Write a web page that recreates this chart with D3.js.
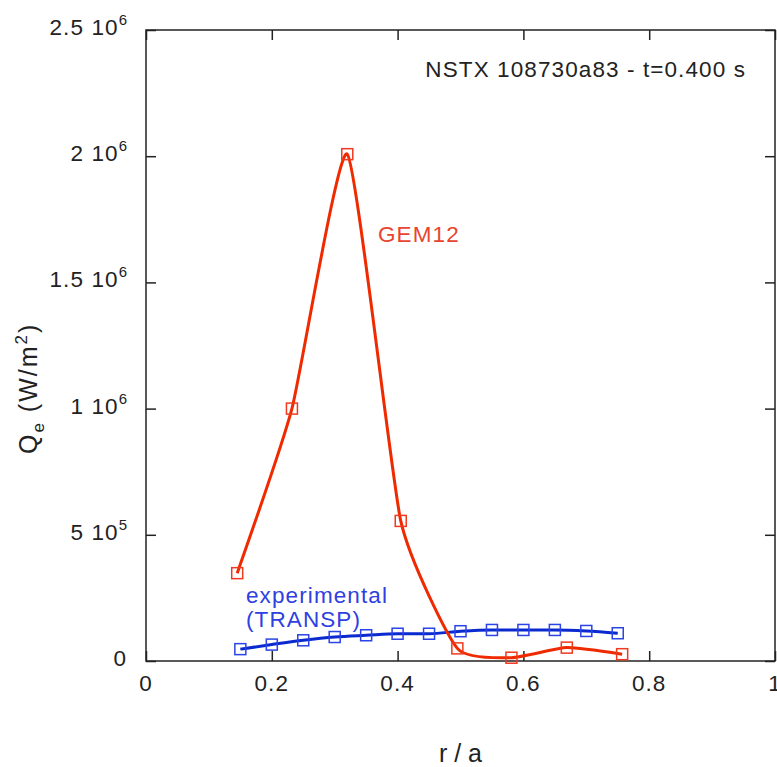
<!DOCTYPE html>
<html>
<head>
<meta charset="utf-8">
<script src="https://cdn.jsdelivr.net/npm/d3@7"></script>
<style>
  body { margin: 0; background: #fff; }
  svg text { font-family: "Liberation Sans", Arial, sans-serif; }
</style>
</head>
<body>
<div class="chart"></div>
<script>
// GEM12 simulation (red)
const gemR = [0.145, 0.232, 0.320, 0.405, 0.495, 0.581, 0.669, 0.757];
const gemQ = [348000, 1000000, 2008000, 555000, 50000, 13000, 53000, 27000];

// experimental / TRANSP (blue)
const expR = [0.15, 0.20, 0.25, 0.30, 0.35, 0.40, 0.45, 0.50, 0.55, 0.60, 0.65, 0.70, 0.75];
const expQ = [47000, 65000, 82000, 95000, 102000, 108000, 108000, 118000, 123000, 123000, 123000, 119000, 110000];

const xTicks = [0, 0.2, 0.4, 0.6, 0.8, 1];
const xTickLabels = ['0', '0.2', '0.4', '0.6', '0.8', '1'];
const yTicks = [0, 500000, 1000000, 1500000, 2000000, 2500000];
const yTickMantissa = ['0', '5', '1', '1.5', '2', '2.5'];
const yTickExponent = ['', '5', '6', '6', '6', '6'];

const chartWidth = 777, chartHeight = 767;
const plotLeft = 146, plotRight = 775, plotTop = 30, plotBottom = 661;
const tickLen = 10;
const fontSize = 22.5, spacing = 1.1;

const svg = d3.select('div.chart').append('svg').attr('width', chartWidth).attr('height', chartHeight);

const x = d3.scaleLinear().domain([0, 1]).range([plotLeft, plotRight]);
const y = d3.scaleLinear().domain([0, 2500000]).range([plotBottom, plotTop]);

// inward ticks on all four sides
const bottomAxis = d3.axisTop(x).tickValues(xTicks).tickSize(tickLen).tickFormat('');
const topAxis = d3.axisBottom(x).tickValues(xTicks).tickSize(tickLen).tickFormat('');
const leftAxis = d3.axisRight(y).tickValues(yTicks).tickSize(tickLen).tickFormat('');
const rightAxis = d3.axisLeft(y).tickValues(yTicks).tickSize(tickLen).tickFormat('');

const axisStyle = g => {
    g.select('.domain').remove();
    g.selectAll('.tick line').attr('stroke', '#222').attr('stroke-width', 1.5);
};
svg.append('g').attr('transform', `translate(0,${plotBottom})`).call(bottomAxis).call(axisStyle);
svg.append('g').attr('transform', `translate(0,${plotTop})`).call(topAxis).call(axisStyle);
svg.append('g').attr('transform', `translate(${plotLeft},0)`).call(leftAxis).call(axisStyle);
svg.append('g').attr('transform', `translate(${plotRight},0)`).call(rightAxis).call(axisStyle);

svg.append('rect')
    .attr('x', plotLeft).attr('y', plotTop)
    .attr('width', plotRight - plotLeft).attr('height', plotBottom - plotTop)
    .attr('fill', 'none').attr('stroke', '#222').attr('stroke-width', 1.5);

// x tick labels (the "1" sits on the page edge, as in the original)
svg.append('g').selectAll('text')
    .data(xTicks)
    .enter()
    .append('text')
    .attr('x', d => x(d))
    .attr('y', plotBottom + 30)
    .attr('text-anchor', 'middle')
    .attr('font-size', fontSize)
    .attr('letter-spacing', spacing)
    .attr('fill', '#222')
    .text((d, i) => xTickLabels[i]);

// y tick labels, "m 10^e"
const yLab = svg.append('g').selectAll('text')
    .data(yTicks)
    .enter()
    .append('text')
    .attr('x', plotLeft - 19)
    .attr('y', d => y(d) + 5)
    .attr('text-anchor', 'end')
    .attr('font-size', fontSize)
    .attr('letter-spacing', spacing)
    .attr('fill', '#222');
yLab.each(function(d, i) {
    const t = d3.select(this);
    if (yTickExponent[i] === '') { t.text(yTickMantissa[i]); return; }
    t.append('tspan').text(yTickMantissa[i] + ' 10');
    t.append('tspan').attr('dy', -10).attr('font-size', 15).attr('letter-spacing', 0).text(yTickExponent[i]);
});

// axis titles
svg.append('text')
    .attr('x', (plotLeft + plotRight) / 2)
    .attr('y', 762)
    .attr('text-anchor', 'middle')
    .attr('font-size', 25)
    .attr('fill', '#222')
    .text('r / a');

const yTitle = svg.append('text')
    .attr('transform', 'translate(37,454) rotate(-90)')
    .attr('font-size', 25)
    .attr('letter-spacing', 2)
    .attr('fill', '#222');
yTitle.append('tspan').text('Q');
yTitle.append('tspan').attr('dy', 7).attr('font-size', 17).text('e');
yTitle.append('tspan').attr('dy', -7).text(' (W/m');
yTitle.append('tspan').attr('dy', -10).attr('font-size', 17).text('2');
yTitle.append('tspan').attr('dy', 10).text(')');

// title
svg.append('text')
    .attr('x', 746)
    .attr('y', 77)
    .attr('text-anchor', 'end')
    .attr('font-size', fontSize)
    .attr('letter-spacing', spacing)
    .attr('fill', '#222')
    .text('NSTX 108730a83 - t=0.400 s');

// series
const drawSeries = (rs, qs, curve, lineColor, markColor) => {
    const pts = rs.map((r, i) => [r, qs[i]]);
    const line = d3.line().x(d => x(d[0])).y(d => y(d[1])).curve(curve);
    svg.append('path')
        .attr('d', line(pts))
        .attr('fill', 'none')
        .attr('stroke', lineColor)
        .attr('stroke-width', 3)
        .attr('stroke-linejoin', 'round');
    const s = 11;
    svg.append('g').selectAll('rect')
        .data(pts)
        .enter()
        .append('rect')
        .attr('x', d => x(d[0]) - s / 2)
        .attr('y', d => y(d[1]) - s / 2)
        .attr('width', s).attr('height', s)
        .attr('fill', 'none')
        .attr('stroke', markColor)
        .attr('stroke-width', 1.5);
};
drawSeries(expR, expQ, d3.curveMonotoneX, '#0a2ad0', '#2a44e6');
drawSeries(gemR, gemQ, d3.curveCardinal.tension(0.5), '#f02a00', '#f03a20');

// series labels
svg.append('text')
    .attr('x', 378).attr('y', 242)
    .attr('font-size', fontSize).attr('letter-spacing', spacing)
    .attr('fill', '#e84530')
    .text('GEM12');
const expLab = svg.append('text')
    .attr('font-size', fontSize).attr('letter-spacing', spacing)
    .attr('fill', '#3040e0');
expLab.append('tspan').attr('x', 246).attr('y', 603).text('experimental');
expLab.append('tspan').attr('x', 246).attr('y', 627).text('(TRANSP)');
</script>
</body>
</html>
